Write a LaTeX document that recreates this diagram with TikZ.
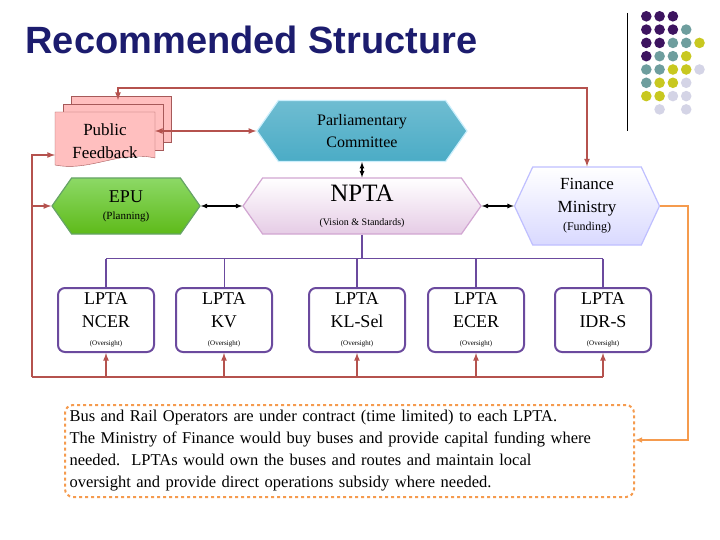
\documentclass[tikz,border=0pt]{standalone}
\usepackage{fontspec}
\setmainfont{Liberation Serif}
\newfontfamily\titlefont{Liberation Sans}
\usetikzlibrary{arrows,calc,positioning,shapes.symbols}
\definecolor{titleblue}{HTML}{1C1C6E}
\definecolor{linkred}{HTML}{B5524E}
\definecolor{buspurple}{HTML}{6B4A9E}
\definecolor{noteorange}{HTML}{F59B4E}
\definecolor{parlteal}{HTML}{4BACC6}
\definecolor{dotP}{HTML}{3D1460}
\definecolor{dotT}{HTML}{6E9E9E}
\definecolor{dotY}{HTML}{C8C820}
\definecolor{dotL}{HTML}{D4D4E6}
\definecolor{dotN}{HTML}{FFFFFF}
\tikzset{
  hexa/.style={signal, signal to=east and west, signal pointer angle=110,
    inner sep=0pt, align=center, draw, line width=1.2pt},
  lpta/.style={draw=buspurple, line width=2pt, rounded corners=7pt, fill=white,
    minimum width=96pt, minimum height=64pt, align=center, inner sep=1pt,
    font=\fontsize{18}{23}\selectfont},
  redlink/.style={linkred, line width=1.6pt},
  duo/.style={<->, >=latex, line width=1.2pt}
}
\begin{document}
\begin{tikzpicture}[x=1pt,y=-1pt]
\useasboundingbox (0,0) rectangle (720,540);

\node[anchor=west, text=titleblue, font=\titlefont\bfseries\fontsize{38}{40}\selectfont] (title) at (22,40) {Recommended Structure};

% dots
\draw[line width=0.8pt] (627,13) -- (627,131);
\foreach \row/\cols in {1/{P,P,P,N,N},2/{P,P,P,T,N},3/{P,P,T,T,Y},4/{P,T,T,Y,N},
    5/{T,T,Y,Y,L},6/{T,Y,Y,L,N},7/{Y,Y,L,L,N},8/{N,L,N,L,N}}
  \foreach \c [count=\i] in \cols
    \fill[dot\c] (633+13.3*\i,3+13.3*\row) circle (5.3pt);

% public feedback
\foreach \d in {16,8}
  \draw[fill=red!25, draw=red!30!gray] (55+\d,112-\d) rectangle (155+\d,158-\d);
\draw[fill=red!25, draw=red!30!gray] (55,112) -- (155,112) -- (155,158)
  .. controls (120,150) and (90,172) .. (55,165) -- cycle;
\node[align=center, font=\fontsize{17}{23}\selectfont] (pf) at (105,141) {Public\\Feedback};
\coordinate (pfleft) at (55,155);
\coordinate (pftop) at (118,100);
\coordinate (topy) at (0,88);

% hexagons
\node[hexa, draw=cyan!20, top color=parlteal!80, bottom color=parlteal,
  minimum width=210pt, minimum height=61pt, font=\fontsize{16}{22}\selectfont] (parl) at (362,131) {Parliamentary\\Committee};
\node[hexa, draw=green!40!black!60, top color=green!50!olive!60, bottom color=green!40!olive!90,
  minimum width=148pt, minimum height=56pt, font=\fontsize{18}{19}\selectfont] (epu) at (126,206)
  {EPU\\[-2pt]{\fontsize{11}{12}\selectfont (Planning)}};
\node[hexa, draw=violet!35, top color=white, bottom color=violet!20,
  minimum width=238pt, minimum height=56pt, font=\fontsize{25}{24}\selectfont] (npta) at (362,206)
  {NPTA\\{\fontsize{10}{11}\selectfont (Vision \& Standards)}};
\node[hexa, draw=blue!25, top color=white, bottom color=blue!15,
  minimum width=145pt, minimum height=78pt, signal pointer angle=130,
  font=\fontsize{17}{23}\selectfont] (fin) at (587,206)
  {Finance\\Ministry\\[-5pt]{\fontsize{12}{13}\selectfont (Funding)}};

\draw[duo] (epu.east) -- (npta.west);
\draw[duo] (npta.east) -- (fin.west);
\draw[duo] (parl.south) -- (npta.north);
\draw[duo, redlink] (155,131) -- (parl.west);

% lpta boxes
\foreach \name/\x [count=\k] in {NCER/106,KV/224,KL-Sel/357,ECER/476,IDR-S/603}
  \node[lpta] (l\k) at (\x,320)
    {LPTA\\\name\\[-5pt]{\fontsize{7}{8}\selectfont (Oversight)}};

\draw[buspurple, line width=1.4pt] (npta.south) -- ++(0,24) coordinate (bus);
\draw[buspurple, line width=1.4pt] (l1.north |- bus) -- (l5.north |- bus);
\foreach \k in {1,3,4,5}
  \draw[buspurple, line width=1.4pt] (l\k.north |- bus) -- (l\k.north);
\draw[buspurple, line width=0.6pt] (l2.north |- bus) -- (l2.north);

% red feedback lines
\coordinate (bl) at (32,377);
\draw[redlink] (bl) -- (l5.south |- bl);
\foreach \k in {1,...,5}
  \draw[redlink, ->, >=latex] (l\k.south |- bl) -- (l\k.south);
\draw[redlink, ->, >=latex] (bl) |- (pfleft);
\draw[redlink, ->, >=latex] (bl |- epu.west) -- (epu.west);
\draw[redlink, <->, >=latex] (pftop) |- (fin.north |- topy) -- (fin.north);

% note
\node[draw=noteorange, dashed, line width=2pt, rounded corners=8pt,
  minimum width=569pt, minimum height=92pt, text width=560pt, align=left,
  font=\fontsize{16.5}{22}\selectfont, inner sep=3pt] (note) at (349.5,451)
  {Bus and Rail Operators are under contract (time limited) to each LPTA.\\
   The Ministry of Finance would buy buses and provide capital funding where\\
   needed.\ \ LPTAs would own the buses and routes and maintain local\\
   oversight and provide direct operations subsidy where needed.};
\coordinate (ocorner) at (688,440);
\draw[noteorange, line width=1.4pt, ->, >=latex] (fin.east) -| (ocorner) -- (ocorner -| note.east);
\end{tikzpicture}
\end{document}
